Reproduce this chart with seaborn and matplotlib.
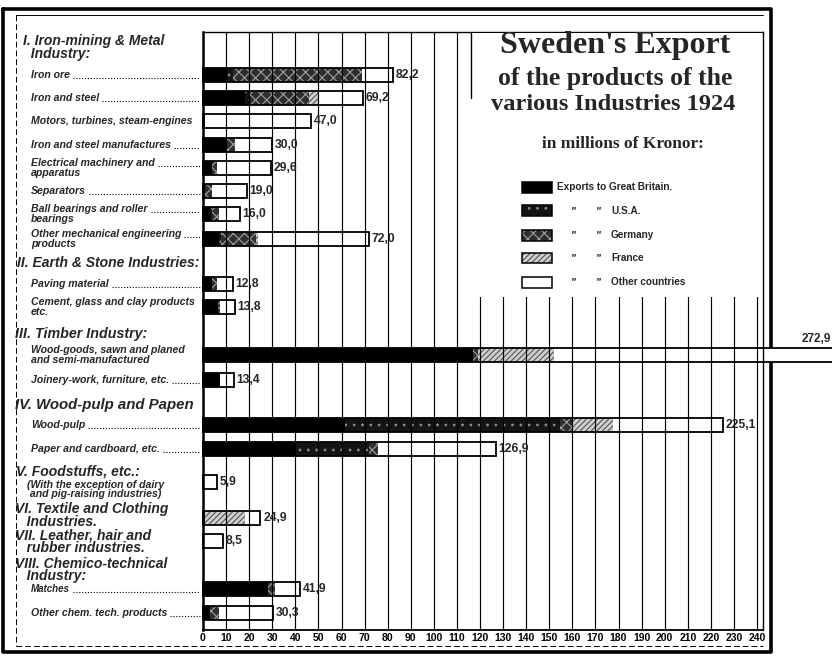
import numpy as np
import pandas as pd
import matplotlib
matplotlib.use("Agg")
import matplotlib.pyplot as plt
import seaborn as sns
from matplotlib.patches import Rectangle
from matplotlib.lines import Line2D

# ---------------- data ----------------
items = ["Iron ore", "Iron and steel", "Motors, turbines, steam-engines",
         "Iron and steel manufactures", "Electrical machinery and\napparatus",
         "Separators", "Ball bearings and roller\nbearings",
         "Other mechanical engineering\nproducts", "Paving material",
         "Cement, glass and clay products\netc.",
         "Wood-goods, sawn and planed\nand semi-manufactured",
         "Joinery-work, furniture, etc.", "Wood-pulp", "Paper and cardboard, etc.",
         "", "", "", "Matches", "Other chem. tech. products"]
gb      = [10, 18, 1, 10, 4, 1, 3, 7, 4, 6.5, 117, 7.5, 61.5, 40, 0, 1, 0, 28, 3]
usa     = [3, 2, 0, 0, 0, 0, 1, 1, 0, 0, 0, 0, 93, 32, 0, 0, 0, 0, 0]
germany = [56, 26, 0, 4, 2, 3, 3, 15, 2, 1, 2, 0, 6, 4, 0, 0, 0, 3, 4]
france  = [0, 4, 0, 0, 0, 0, 0, 1, 0, 0, 33, 0, 17, 0, 0, 17, 0, 0, 0]
other   = [13.2, 19.2, 46.0, 16.0, 23.6, 15.0, 9.0, 48.0, 6.8, 6.3, 120.9, 5.9,
           47.6, 50.9, 5.9, 6.9, 8.5, 10.9, 23.3]
totals  = [82.2, 69.2, 47.0, 30.0, 29.6, 19.0, 16.0, 72.0, 12.8, 13.8, 272.9, 13.4,
           225.1, 126.9, 5.9, 24.9, 8.5, 41.9, 30.3]

headers = ["I. Iron-mining & Metal\n  Industry:",
           "II. Earth & Stone Industries:",
           "III. Timber Industry:",
           "IV. Wood-pulp and Papen",
           "V. Foodstuffs, etc.:",
           "(With the exception of dairy\n and pig-raising industries)",
           "VI. Textile and Clothing\n   Industries.",
           "VII. Leather, hair and\n   rubber industries.",
           "VIII. Chemico-technical\n   Industry:"]
ticks = list(range(0, 241, 10))
legend_names = ["Great Britain.", "U.S.A.", "Germany", "France", "Other countries"]

# ---------------- layout (pixels) ----------------
W, H = 832, 658
row_y = [75, 98, 121, 145, 168, 191, 214, 239, 284, 307, 355, 380, 425, 449,
         482, 518, 541, 589, 613]
header_pos = [(23, 47.5), (17, 263), (15, 334), (15, 405), (16, 472),
              (27, 489.5), (15, 515.5), (15, 542), (15, 570)]
header_size = [10, 10, 10.3, 10.8, 10, 7.6, 10, 10, 10]
AX_L, AX_R, AX_T, AX_B = 203, 763, 32, 630
PX_PER_UNIT = (757 - 203) / 240.0
BAR_H = 14

sns.set_theme(style="white")
plt.rcParams["font.family"] = ["Liberation Sans", "DejaVu Sans"]
plt.rcParams["hatch.linewidth"] = 0.8

fig = plt.figure(figsize=(W / 100, H / 100), dpi=100)
ax = fig.add_axes([AX_L / W, 1 - AX_B / H, (AX_R - AX_L) / W, (AX_B - AX_T) / H])

def fx(x):
    return x / W

def fy(y):
    return 1 - y / H

df = pd.DataFrame({"row": row_y, "gb": gb, "usa": usa, "germany": germany,
                   "france": france, "other": other, "total": totals})
df["c_gb"] = df["gb"]
df["c_usa"] = df["c_gb"] + df["usa"]
df["c_de"] = df["c_usa"] + df["germany"]
df["c_fr"] = df["c_de"] + df["france"]
df["c_all"] = df["c_fr"] + df["other"]

native = np.diff(sorted(row_y)).min()
wfrac = BAR_H / native

layers = [("c_all", "white", None, "white"),
          ("c_fr", "#cfcfcf", "//////", "#555555"),
          ("c_de", "#2e2e2e", "xxx", "#a0a0a0"),
          ("c_usa", "#141414", "..", "#8a8a8a"),
          ("c_gb", "black", None, "black")]
for col, face, hatch, hcol in layers:
    sns.barplot(data=df, x=col, y="row", orient="y", native_scale=True,
                width=wfrac, color=face, hatch=hatch, edgecolor=hcol,
                linewidth=0, errorbar=None, ax=ax, clip_on=False, zorder=1)
sns.barplot(data=df, x="total", y="row", orient="y", native_scale=True,
            width=wfrac, fill=False, color="black", linewidth=1.3,
            errorbar=None, ax=ax, clip_on=False, zorder=1.2)

ax.set_xlim(0, (AX_R - AX_L) / PX_PER_UNIT)
ax.set_ylim(AX_B, AX_T)
ax.set_xticks(ticks)
ax.set_xticklabels([str(t) for t in ticks], fontsize=7.5, fontweight="bold")
ax.tick_params(axis="x", length=2, width=1, pad=0.5, colors="black", direction="out")
ax.set_yticks([])
ax.set_xlabel("")
ax.set_ylabel("")
ax.set_axisbelow(False)
ax.grid(axis="x", color="black", linewidth=0.85)
ax.grid(axis="y", visible=False)
for s, lw in [("left", 1.8), ("bottom", 1.3), ("top", 1.0), ("right", 1.0)]:
    ax.spines[s].set_visible(True)
    ax.spines[s].set_color("black")
    ax.spines[s].set_linewidth(lw)

# value labels
for y, tot in zip(row_y, totals):
    txt = f"{tot:.1f}".replace(".", ",")
    if tot > 245:
        fig.text(fx(831), fy(y - 16), txt, ha="right", va="center",
                 fontsize=8.5, fontweight="bold")
    else:
        ax.text(tot + 1.2, y, txt, ha="left", va="center", fontsize=8.7,
                fontweight="bold", zorder=5)

# frame
def fline(xs, ys, lw, ls="-", z=0.5):
    ax.add_line(Line2D([fx(v) for v in xs], [fy(v) for v in ys], transform=fig.transFigure,
                       color="black", lw=lw, ls=ls, clip_on=False, zorder=z))

fline([3, 3, 771, 771, 3], [9, 652, 652, 9, 9], 2.6)
fline([16, 16], [15, 646], 0.7, (0, (6, 3)))
fline([16, 763], [15, 15], 0.7)
fline([16, 763], [646, 646], 0.7, (0, (6, 3)))

# title box
ax.add_patch(Rectangle((fx(471), fy(297)), fx(762) - fx(471), fy(33) - fy(297),
                       transform=fig.transFigure, facecolor="white", edgecolor="none",
                       zorder=3, clip_on=False))
fline([471, 471], [33, 98], 1.0, z=3.2)

serif = ["Liberation Serif", "DejaVu Serif"]
fig.text(fx(615), fy(46), "Sweden's Export", ha="center", va="center",
         fontsize=23, fontweight="bold", family=serif)
fig.text(fx(615), fy(78), "of the products of the", ha="center", va="center",
         fontsize=18.5, fontweight="bold", family=serif)
fig.text(fx(613), fy(104), "various Industries 1924", ha="center", va="center",
         fontsize=17.6, fontweight="bold", family=serif)
fig.text(fx(623), fy(144), "in millions of Kronor:", ha="center", va="center",
         fontsize=12.5, fontweight="bold", family=serif)

leg_y = [187, 211, 235, 258, 282]
for i, (ly, name) in enumerate(zip(leg_y, legend_names)):
    col, face, hatch, hcol = layers[::-1][i]
    ax.add_patch(Rectangle((fx(522), fy(ly + 5.5)), fx(552) - fx(522), fy(ly - 5.5) - fy(ly + 5.5),
                           transform=fig.transFigure, facecolor=face, hatch=hatch,
                           edgecolor=hcol, linewidth=0, zorder=3.5, clip_on=False))
    ax.add_patch(Rectangle((fx(522), fy(ly + 5.5)), fx(552) - fx(522), fy(ly - 5.5) - fy(ly + 5.5),
                           transform=fig.transFigure, facecolor="none",
                           edgecolor="black", linewidth=1.1, zorder=3.6, clip_on=False))
    if i == 0:
        fig.text(fx(557), fy(ly), "Exports to " + name, ha="left", va="center",
                 fontsize=7.2, fontweight="bold")
    else:
        fig.text(fx(571), fy(ly), '"', ha="left", va="center", fontsize=7.5,
                 fontweight="bold", style="italic")
        fig.text(fx(596), fy(ly), '"', ha="left", va="center", fontsize=7.5,
                 fontweight="bold", style="italic")
        fig.text(fx(611), fy(ly), name, ha="left", va="center", fontsize=7.2,
                 fontweight="bold")

# headers (multi-line headers as one text block)
for text, (x, y), fs in zip(headers, header_pos, header_size):
    fig.text(fx(x), fy(y), text, ha="left", va="center", ma="left",
             fontsize=fs, fontweight="bold", style="italic", linespacing=0.82)

# item labels
first_lines = []
for lab, y in zip(items, row_y):
    if not lab:
        continue
    parts = lab.split("\n")
    fs = 7.0 if lab == "Matches" else 7.6
    ys = [y] if len(parts) == 1 else [y - 4.8, y + 4.8]
    for k, (p, yy) in enumerate(zip(parts, ys)):
        t = fig.text(fx(31), fy(yy), p, ha="left", va="center", fontsize=fs,
                     fontweight="bold", style="italic")
        if k == 0:
            first_lines.append(t)

fig.canvas.draw()
r = fig.canvas.get_renderer()
for t in first_lines:
    bb = t.get_window_extent(r)
    if bb.x1 < 184:
        yb = bb.y0 + 2
        ax.add_line(Line2D([(bb.x1 + 3) / W, 200 / W], [yb / H, yb / H],
                           transform=fig.transFigure, color="black", lw=0.8,
                           ls=(0, (1, 1.6)), clip_on=False, zorder=5))

fig.savefig("out.png", dpi=100)
